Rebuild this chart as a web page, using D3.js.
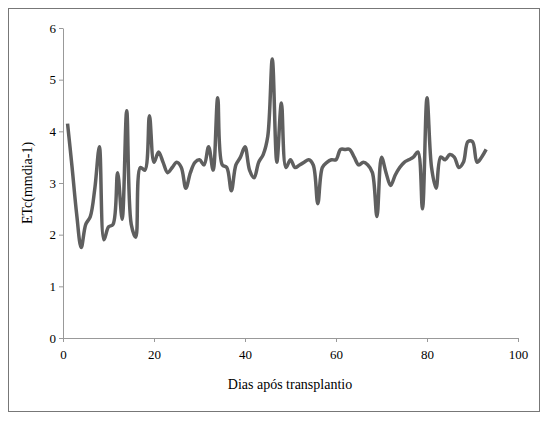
<!DOCTYPE html><html><head><meta charset="utf-8"><script src="https://cdn.jsdelivr.net/npm/d3@7"></script>
<style>body{margin:0;background:#fff}text{font-family:"Liberation Serif","Times New Roman",serif}</style></head><body><svg width="549" height="423"></svg>
<script>
const days = d3.range(1, 94);
const etc = [4.15,3.3,2.4,1.75,2.2,2.35,2.9,3.7,1.9,2.15,2.2,3.2,2.3,4.4,2.2,1.95,3.3,3.25,4.3,3.4,3.6,3.4,3.2,3.3,3.4,3.3,2.9,3.2,3.4,3.45,3.35,3.7,3.25,4.65,3.35,3.3,2.85,3.35,3.5,3.7,3.25,3.1,3.4,3.55,3.9,5.4,3.4,4.55,3.3,3.45,3.3,3.35,3.4,3.45,3.35,2.6,3.3,3.4,3.45,3.45,3.65,3.65,3.65,3.5,3.35,3.4,3.35,3.2,2.35,3.5,3.2,2.95,3.15,3.3,3.4,3.45,3.5,3.6,2.5,4.65,3.3,2.9,3.5,3.45,3.55,3.5,3.3,3.4,3.8,3.8,3.4,3.5,3.65];
const xTicks = [0,20,40,60,80,100];
const yTicks = [0,1,2,3,4,5,6];
const svg = d3.select("svg");
svg.append("rect").attr("x",8.5).attr("y",8.5).attr("width",531).attr("height",403).attr("fill","none").attr("stroke","#777");
const x = d3.scaleLinear().domain([0,100]).range([63,518]);
const y = d3.scaleLinear().domain([0,6]).range([338,28]);
const gx = svg.append("g").attr("transform","translate(0,338)").call(d3.axisBottom(x).tickValues(xTicks).tickFormat(d3.format("d")).tickSize(4).tickSizeOuter(0));
const gy = svg.append("g").attr("transform","translate(63,0)").call(d3.axisLeft(y).tickValues(yTicks).tickFormat(d3.format("d")).tickSize(4).tickSizeOuter(0));
[gx,gy].forEach(g=>{g.attr("font-family","Liberation Serif").attr("font-size",13);g.selectAll("path,line").attr("stroke","#999");g.selectAll("text").attr("fill","#000");});
gx.selectAll("text").attr("dy","1.1em");
svg.append("path").datum(days.map((d,i)=>[d,etc[i]])).attr("fill","none").attr("stroke","#5f5f5f").attr("stroke-width",3.5)
 .attr("d",d3.line().x(d=>x(d[0])).y(d=>y(d[1])).curve(d3.curveCatmullRom.alpha(0.5)));
svg.append("text").attr("x",290).attr("y",389).attr("text-anchor","middle").attr("font-size",14).text("Dias após transplantio");
svg.append("text").attr("transform","translate(32,183) rotate(-90)").attr("text-anchor","middle").attr("font-size",14).text("ETc(mmdia-1)");
</script></body></html>
